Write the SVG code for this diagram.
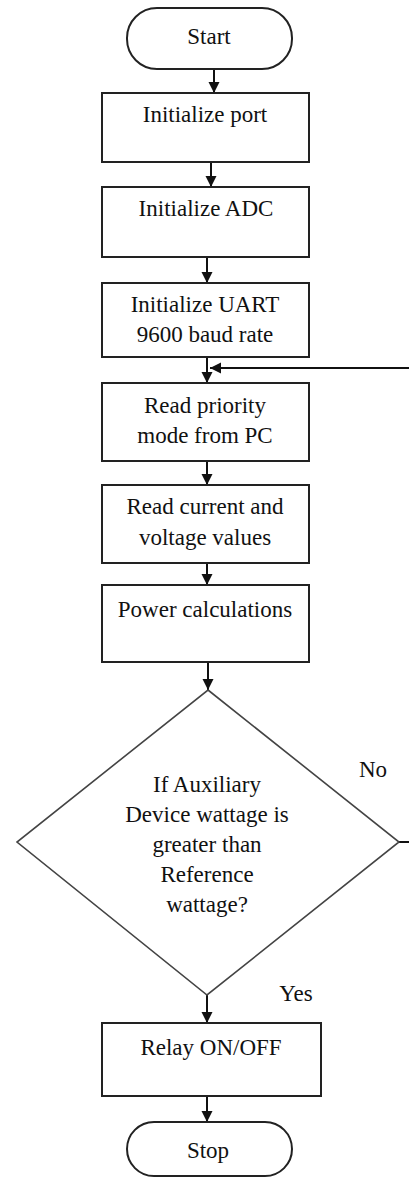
<svg xmlns="http://www.w3.org/2000/svg" width="409" height="1178" viewBox="0 0 409 1178">
<defs>
<style>
.box{fill:#fff;stroke:#222;stroke-width:2}
.dia{fill:#fff;stroke:#444;stroke-width:1.6}
text{font-family:'Liberation Serif','Times New Roman','DejaVu Serif',serif;font-size:23px;fill:#111;text-anchor:middle}
.c{fill:none;stroke:#111;stroke-width:2}
</style>
<marker id="ah" markerUnits="userSpaceOnUse" markerWidth="12" markerHeight="12" refX="11" refY="6" orient="auto">
<path d="M0,0.5 L11,6 L0,11.5 z" fill="#111"/>
</marker>
</defs>
<rect width="409" height="1178" fill="#fff"/>
<g id="connectors">
<line class="c" x1="214" y1="69" x2="214" y2="93" marker-end="url(#ah)"/>
<line class="c" x1="211" y1="162" x2="211" y2="187" marker-end="url(#ah)"/>
<line class="c" x1="207" y1="257" x2="207" y2="283" marker-end="url(#ah)"/>
<line class="c" x1="207" y1="357" x2="207" y2="383" marker-end="url(#ah)"/>
<line class="c" x1="207" y1="461" x2="207" y2="485" marker-end="url(#ah)"/>
<line class="c" x1="207" y1="563" x2="207" y2="585" marker-end="url(#ah)"/>
<line class="c" x1="208" y1="662" x2="208" y2="690" marker-end="url(#ah)"/>
<line class="c" x1="207" y1="995" x2="207" y2="1023" marker-end="url(#ah)"/>
<line class="c" x1="207" y1="1096" x2="207" y2="1122" marker-end="url(#ah)"/>
<line class="c" x1="399" y1="842" x2="409" y2="842"/>
<line class="c" x1="409" y1="368" x2="210" y2="368" marker-end="url(#ah)"/>
<text x="373" y="777">No</text>
<text x="296" y="1001">Yes</text>
</g>
<g id="start">
<rect class="box" x="127" y="8" width="165" height="61" rx="30" ry="30"/>
<text x="209" y="44">Start</text>
</g>
<g id="init-port">
<rect class="box" x="102" y="93" width="207" height="69"/>
<text x="205" y="122">Initialize port</text>
</g>
<g id="init-adc">
<rect class="box" x="102" y="187" width="207" height="70"/>
<text x="206" y="216">Initialize ADC</text>
</g>
<g id="init-uart">
<rect class="box" x="102" y="283" width="207" height="74"/>
<text x="205" y="312">Initialize UART</text>
<text x="205" y="342">9600 baud rate</text>
</g>
<g id="read-priority">
<rect class="box" x="102" y="383" width="207" height="78"/>
<text x="205" y="413">Read priority</text>
<text x="205" y="443">mode from PC</text>
</g>
<g id="read-values">
<rect class="box" x="102" y="485" width="207" height="78"/>
<text x="205" y="514">Read current and</text>
<text x="205" y="545">voltage values</text>
</g>
<g id="power">
<rect class="box" x="102" y="585" width="207" height="77"/>
<text x="205" y="617">Power calculations</text>
</g>
<g id="decision">
<polygon class="dia" points="208,690 399,842 207,995 17,842"/>
<text x="207" y="792">If Auxiliary</text>
<text x="207" y="822">Device wattage is</text>
<text x="207" y="852">greater than</text>
<text x="207" y="882">Reference</text>
<text x="207" y="912">wattage?</text>
</g>
<g id="relay">
<rect class="box" x="102" y="1023" width="219" height="73"/>
<text x="211" y="1055">Relay ON/OFF</text>
</g>
<g id="stop">
<rect class="box" x="127" y="1122" width="165" height="54" rx="27" ry="27"/>
<text x="208" y="1158">Stop</text>
</g>
</svg>
